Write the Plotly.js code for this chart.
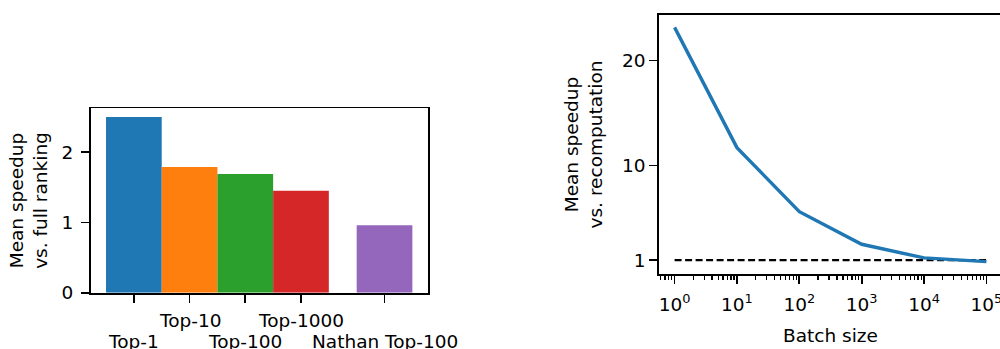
<!DOCTYPE html>
<html>
<head>
<meta charset="utf-8">
<script src="https://cdn.plot.ly/plotly-3.0.1.min.js"></script>
<style>
html, body { margin: 0; padding: 0; overflow: hidden; background: #fff; }
#chart { width: 1003px; height: 349px; }
</style>
</head>
<body>
<div id="chart"></div>
<script>
// ---- Data ----
var barCategories = ["Top-1", "Top-10", "Top-100", "Top-1000", "Nathan Top-100"];
var barValues = [2.50, 1.79, 1.69, 1.45, 0.96];
var barColors = ["#1f77b4", "#ff7f0e", "#2ca02c", "#d62728", "#9467bd"];

var batchSizes = [1, 10, 100, 1000, 10000, 100000];
var speedupRecomp = [23.15, 11.7, 5.6, 2.5, 1.2, 0.85];
var baselineValue = 1;

var leftYTicks = [0, 1, 2];
var rightYTicks = [1, 10, 20];
var rightXTickVals = [1, 10, 100, 1000, 10000, 100000];
var rightXTickText = ["10<sup>0</sup>", "10<sup>1</sup>", "10<sup>2</sup>", "10<sup>3</sup>", "10<sup>4</sup>", "10<sup>5</sup>"];

// ---- Build ----
var W = 1003, H = 349;
var FONT = "DejaVu Sans, sans-serif";
var FS = 18.5;

// slot positions: consecutive, with half-slot gap before the last group
var barPos = barCategories.map(function (c, i) { return i === barCategories.length - 1 ? i + 0.5 : i; });

// minor ticks for log axis
var minorVals = [];
for (var e = -1; e <= 5; e++) {
  for (var m = 2; m <= 9; m++) minorVals.push(m * Math.pow(10, e));
}

var traces = [
  {
    type: "bar", x: barPos, y: barValues, width: 1,
    marker: { color: barColors, line: { width: 0 } },
    xaxis: "x", yaxis: "y", hoverinfo: "skip"
  },
  {
    type: "scatter", mode: "lines",
    x: [batchSizes[0], batchSizes[batchSizes.length - 1]],
    y: [baselineValue, baselineValue],
    line: { color: "#000", width: 2.2, dash: "7px,3.5px" },
    xaxis: "x2", yaxis: "y2", hoverinfo: "skip"
  },
  {
    type: "scatter", mode: "lines",
    x: batchSizes, y: speedupRecomp,
    line: { color: "#1f77b4", width: 3.4 },
    xaxis: "x2", yaxis: "y2", hoverinfo: "skip"
  }
];

var annotations = barCategories.map(function (c, i) {
  var upper = (i % 2 === 1);
  return {
    text: c, x: barPos[i], xref: "x", yref: "paper",
    y: upper ? (H - 320) / H : (H - 341) / H,
    xanchor: "center", yanchor: "middle", showarrow: false,
    font: { family: FONT, size: FS, color: "#000" }
  };
});

var axisCommon = {
  showgrid: false, zeroline: false, showline: true, linecolor: "#000", linewidth: 1.8,
  mirror: true, ticks: "outside", ticklen: 8, tickwidth: 1.8, tickcolor: "#000",
  tickfont: { family: FONT, size: FS, color: "#000" }, fixedrange: true
};

var layout = {
  width: W, height: H,
  margin: { l: 0, r: 0, t: 0, b: 0 },
  paper_bgcolor: "#fff", plot_bgcolor: "#fff",
  showlegend: false,
  font: { family: FONT, size: FS, color: "#000" },
  xaxis: Object.assign({}, axisCommon, {
    domain: [90.7 / W, 427.7 / W],
    range: [-0.775, 5.275],
    tickmode: "array", tickvals: barPos, showticklabels: false
  }),
  yaxis: Object.assign({}, axisCommon, {
    domain: [(H - 292.7) / H, (H - 108.3) / H],
    range: [0, 2.625],
    tickmode: "array", tickvals: leftYTicks,
    ticklabelstandoff: 4,
    title: { text: "Mean speedup<br>vs. full ranking", font: { family: FONT, size: FS, color: "#000" }, standoff: 9 }
  }),
  xaxis2: Object.assign({}, axisCommon, {
    type: "log", anchor: "y2",
    domain: [659 / W, 1002 / W],
    range: [-0.25, 5.25],
    tickmode: "array", tickvals: rightXTickVals, ticktext: rightXTickText,
    ticklabelstandoff: 5,
    minor: { tickmode: "array", tickvals: minorVals, ticks: "outside", ticklen: 4.5, tickwidth: 1.3, tickcolor: "#000", showgrid: false },
    title: { text: "Batch size", font: { family: FONT, size: FS, color: "#000" }, standoff: 15 }
  }),
  yaxis2: Object.assign({}, axisCommon, {
    anchor: "x2",
    domain: [(H - 274) / H, (H - 15) / H],
    range: [-0.33, 24.33],
    tickmode: "array", tickvals: rightYTicks,
    title: { text: "Mean speedup<br>vs. recomputation", font: { family: FONT, size: FS, color: "#000" }, standoff: 14 }
  }),
  annotations: annotations
};

Plotly.newPlot("chart", traces, layout, { staticPlot: true, displayModeBar: false });
</script>
</body>
</html>
